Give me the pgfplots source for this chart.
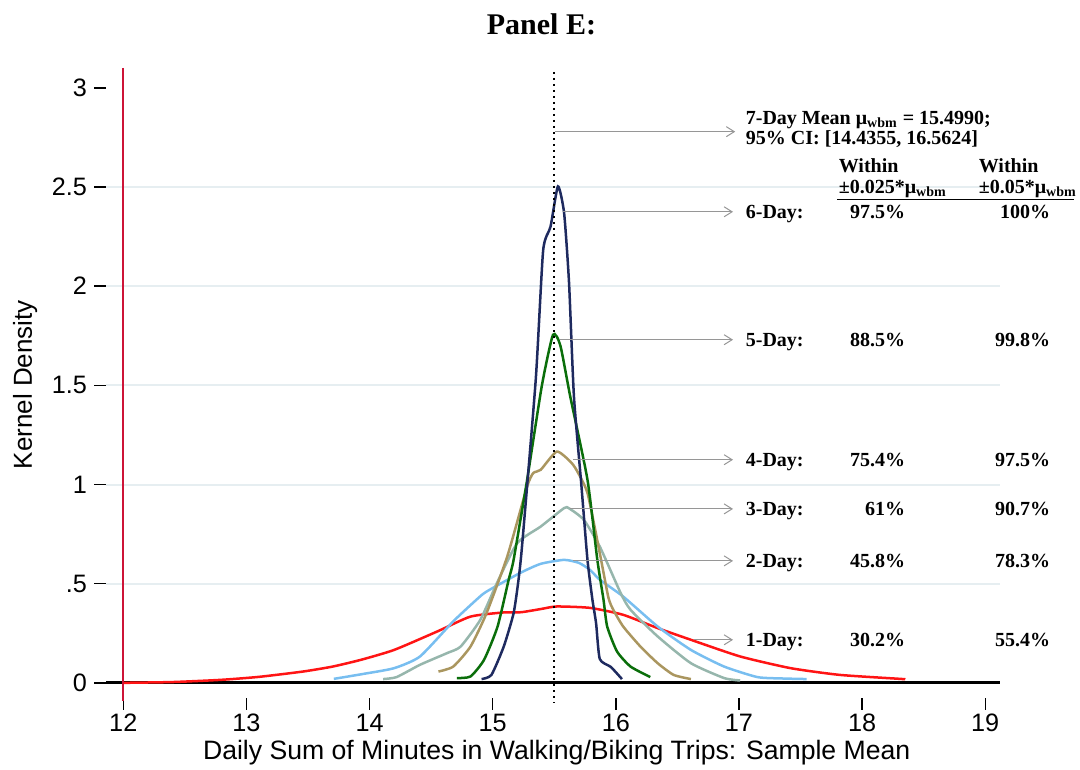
\documentclass[border=0pt]{standalone}
\usepackage{pgfplots}
\pgfplotsset{compat=1.18}
\usepackage{fontspec}
\setmainfont{Liberation Sans}
\newfontfamily\tnr{Liberation Serif}
\usetikzlibrary{arrows.meta}
\definecolor{cRed}{RGB}{255,20,20}
\definecolor{cBlue}{RGB}{120,190,240}
\definecolor{cGrey}{RGB}{150,182,172}
\definecolor{cTan}{RGB}{170,150,95}
\definecolor{cGreen}{RGB}{10,110,10}
\definecolor{cNavy}{RGB}{30,42,95}
\definecolor{cVline}{RGB}{205,20,55}
\definecolor{cGrid}{RGB}{230,238,241}
\definecolor{cArrow}{RGB}{150,150,150}
\tikzset{ann/.style={font=\tnr\bfseries\fontsize{10}{12}\selectfont, inner sep=0pt},
  arr/.style={cArrow, line width=0.5pt, -{Straight Barb[length=4pt,width=5pt]}}}
\begin{document}
\begin{tikzpicture}
\begin{axis}[
  scale only axis, width=446.9pt, height=314.9pt,
  xmin=11.86, xmax=19.12, ymin=-0.076, ymax=3.1,
  axis x line*=bottom, axis y line*=left, axis line style={draw=none},
  xtick={12,13,14,15,16,17,18,19}, xticklabels={12,13,14,15,16,17,18,19},
  ytick={0,0.5,1,1.5,2,2.5,3}, yticklabels={0,.5,1,1.5,2,2.5,3},
  tick align=outside, major tick length=6pt,
  tick style={black, line width=0.7pt},
  ticklabel style={font=\fontsize{12.6}{14}\selectfont},
  xticklabel style={yshift=1.5pt},
  clip=false,
  every axis plot/.append style={line width=1.25pt, no markers, smooth, tension=0.35},
]
\coordinate (BL) at (rel axis cs:0,0);
\coordinate (TR) at (rel axis cs:1,1);
% grid lines
\foreach \yy in {0.5,1,1.5,2,2.5} {
  \edef\tmp{\noexpand\draw[cGrid, line width=1pt] (axis cs:11.86,\yy) -- (axis cs:19.12,\yy);}\tmp
}
\draw[black, line width=1.5pt] (axis cs:11.86,0) -- (axis cs:19.12,0);

% 1-Day
\addplot[cRed] coordinates {(12.00,0.000) (12.40,0.004) (12.79,0.015) (13.10,0.030) (13.46,0.057) (13.70,0.082) (13.93,0.116) (14.20,0.166) (14.55,0.259) (14.82,0.334) (15.09,0.355) (15.23,0.356) (15.39,0.372) (15.52,0.385) (15.79,0.378) (16.06,0.343) (16.34,0.276) (16.61,0.217) (17.01,0.133) (17.42,0.074) (17.82,0.040) (18.31,0.020) (18.35,0.018)};
% 2-Day
\addplot[cBlue] coordinates {(13.71,0.020) (13.95,0.045) (14.20,0.074) (14.41,0.133) (14.68,0.310) (14.87,0.420) (14.95,0.460) (15.22,0.553) (15.39,0.600) (15.58,0.620) (15.70,0.605) (15.79,0.570) (15.87,0.520) (16.06,0.435) (16.34,0.284) (16.61,0.166) (16.88,0.082) (17.15,0.029) (17.35,0.022) (17.55,0.019)};
% 3-Day
\addplot[cGrey] coordinates {(14.11,0.019) (14.22,0.029) (14.41,0.091) (14.63,0.150) (14.74,0.183) (14.90,0.318) (15.04,0.510) (15.20,0.705) (15.39,0.788) (15.58,0.881) (15.62,0.880) (15.74,0.822) (15.87,0.687) (16.04,0.452) (16.12,0.368) (16.34,0.234) (16.61,0.099) (16.88,0.024) (17.01,0.012)};
% 4-Day
\addplot[cTan] coordinates {(14.56,0.057) (14.68,0.082) (14.82,0.183) (14.95,0.351) (15.12,0.640) (15.28,0.990) (15.33,1.058) (15.39,1.074) (15.52,1.166) (15.63,1.116) (15.68,1.074) (15.77,0.957) (15.87,0.654) (15.94,0.430) (15.98,0.368) (16.06,0.284) (16.20,0.183) (16.34,0.099) (16.47,0.040) (16.61,0.019)};
% 5-Day
\addplot[cGreen] coordinates {(14.71,0.024) (14.82,0.032) (14.93,0.116) (15.04,0.284) (15.13,0.520) (15.17,0.620) (15.28,1.024) (15.40,1.500) (15.49,1.755) (15.55,1.700) (15.63,1.444) (15.77,1.024) (15.85,0.620) (15.90,0.420) (15.93,0.284) (16.01,0.158) (16.12,0.082) (16.28,0.029)};
% 6-Day
\addplot[cNavy] coordinates {(14.91,0.019) (14.99,0.040) (15.09,0.183) (15.17,0.351) (15.21,0.520) (15.24,0.700) (15.35,1.530) (15.41,2.180) (15.47,2.300) (15.53,2.503) (15.58,2.370) (15.62,2.020) (15.66,1.444) (15.72,1.000) (15.77,0.620) (15.81,0.420) (15.84,0.300) (15.87,0.120) (15.96,0.080) (16.05,0.019)};

% vertical lines
\draw[cVline, line width=1.2pt] (axis cs:12,3.1) -- (axis cs:12,-0.09);
\draw[black, line width=1.2pt, dash pattern=on 1pt off 2pt] (axis cs:15.499,3.08) -- (axis cs:15.499,-0.1);

% annotations
\node[font=\tnr\bfseries\fontsize{15}{17}\selectfont] at (axis cs:15.396,3.318) {Panel E:};
\node[font=\fontsize{13.3}{15}\selectfont] at (axis cs:15.52,-0.353) {Daily Sum of Minutes in Walking/Biking Trips: Sample Mean};
\node[font=\fontsize{13}{15}\selectfont, rotate=90] at (axis cs:11.204,1.503) {Kernel Density};

\draw[arr] (axis cs:15.509,2.779) -- (axis cs:16.97,2.779);
\node[ann, anchor=base west] at (axis cs:17.053,2.814) {7-Day Mean μ\textsubscript{wbm} = 15.4990;};
\node[ann, anchor=base west] at (axis cs:17.053,2.713) {95\% CI: [14.4355, 16.5624]};
\node[ann, anchor=base west] at (axis cs:17.808,2.572) {Within};
\node[ann, anchor=base west] at (axis cs:18.945,2.572) {Within};
\node[ann, anchor=base west] at (axis cs:17.808,2.4655) {±0.025*μ\textsubscript{wbm}};
\node[ann, anchor=base west] at (axis cs:18.945,2.4655) {±0.05*μ\textsubscript{wbm}};
\draw[black, line width=0.8pt] (axis cs:17.80,2.436) -- (axis cs:19.72,2.436);

\foreach \yy/\xs/\lab/\va/\vb in {2.375/15.574/6/97.5/100, 1.730/15.55/5/88.5/99.8, 1.125/15.656/4/75.4/97.5, 0.877/15.631/3/61/90.7, 0.615/15.656/2/45.8/78.3, 0.217/16.632/1/30.2/55.4} {
  \edef\tmp{\noexpand\draw[arr] (axis cs:\xs,\yy) -- (axis cs:16.952,\yy);
  \noexpand\node[ann, anchor=base west, yshift=-3.3pt] at (axis cs:17.053,\yy) {\lab-Day:};
  \noexpand\node[ann, anchor=base east, yshift=-3.3pt] at (axis cs:18.352,\yy) {\va\noexpand\%};
  \noexpand\node[ann, anchor=base east, yshift=-3.3pt] at (axis cs:19.53,\yy) {\vb\noexpand\%};}\tmp
}
\end{axis}
\pgfresetboundingbox
\path ([shift={(-53pt,-36pt)}]BL) rectangle ([shift={(40pt,34pt)}]TR);
\end{tikzpicture}
\end{document}
